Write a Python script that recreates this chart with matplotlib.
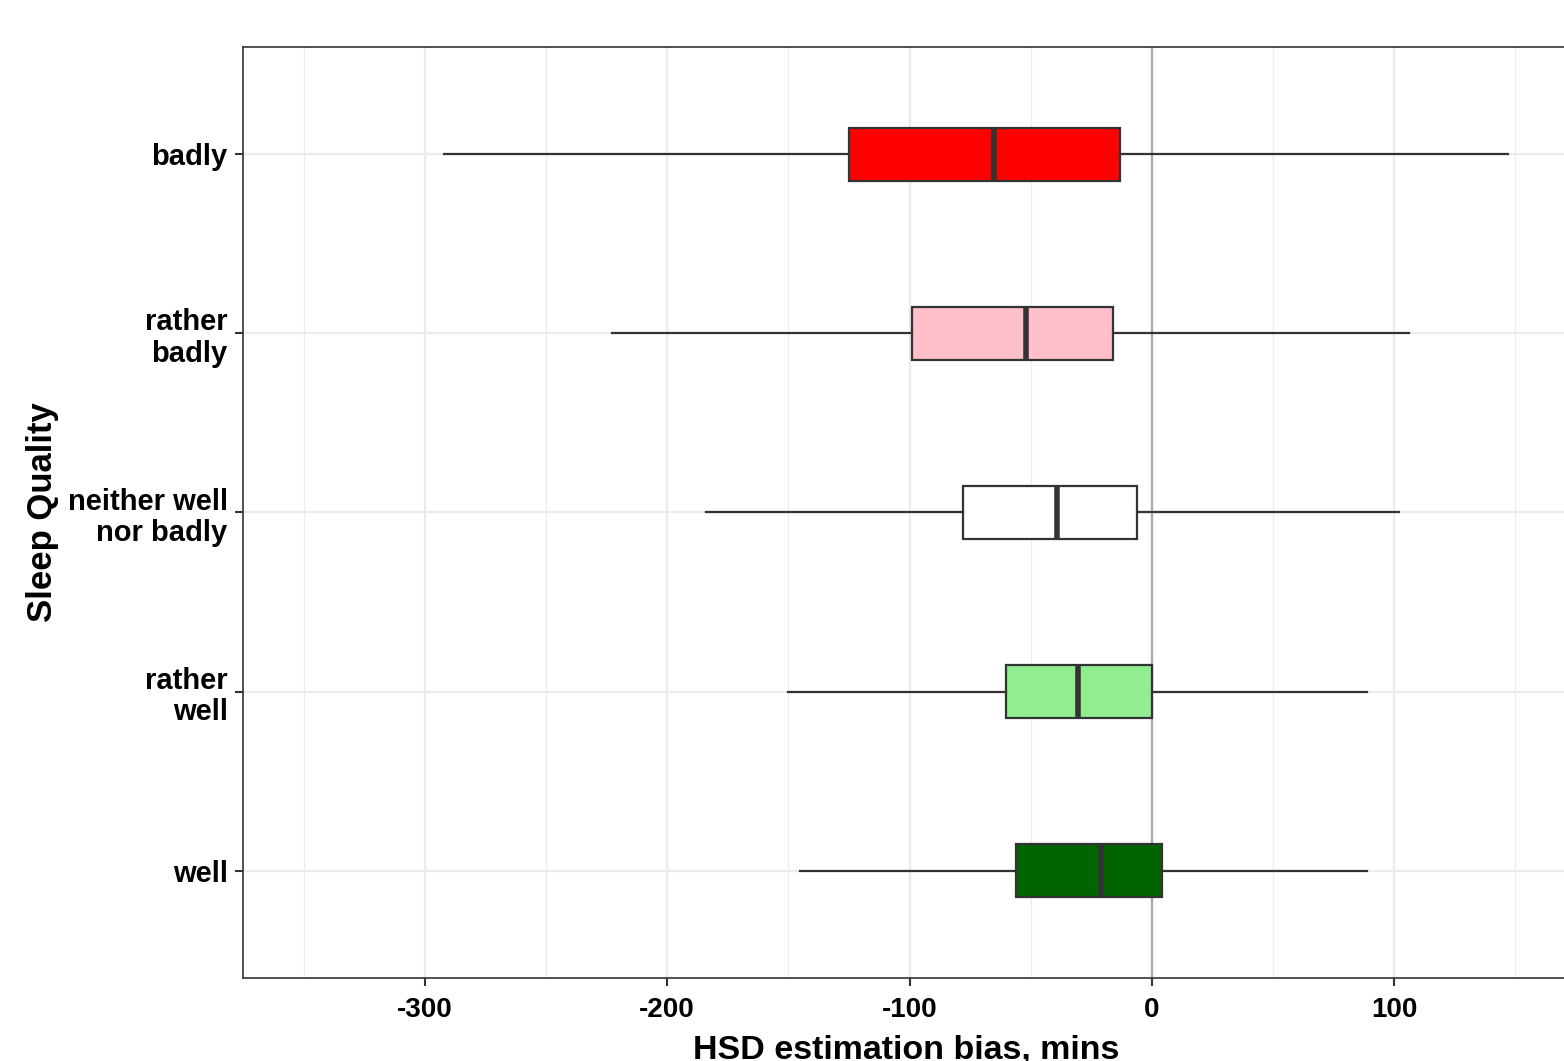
import numpy as np
import matplotlib
matplotlib.use('Agg')
import matplotlib.pyplot as plt
from matplotlib.ticker import MultipleLocator

plt.rcParams['font.family'] = ['Liberation Sans', 'DejaVu Sans']
plt.rcParams['axes.unicode_minus'] = False

# categories from bottom to top
categories = ['well', 'rather\nwell', 'neither well\nnor badly', 'rather\nbadly', 'badly']
colors = ['#006400', '#90EE90', '#FFFFFF', '#FFC0CB', '#FF0000']

whisker_low = [-145, -150, -184, -223, -292]
q1 = [-56, -60, -78, -99, -125]
median = [-21, -30.5, -39, -52, -65]
q3 = [4, 0, -6, -16, -13]
whisker_high = [89, 89, 102, 106, 147]

fig = plt.figure(figsize=(15.64, 10.61), dpi=100)
ax = fig.add_axes([243 / 1564, 83 / 1061, (1570 - 243) / 1564, (978 - 47) / 1061])

stats = []
for i in range(len(categories)):
    stats.append(dict(whislo=whisker_low[i], q1=q1[i], med=median[i],
                      q3=q3[i], whishi=whisker_high[i], fliers=[]))

edge = '#333333'
bp = ax.bxp(stats, positions=np.arange(1, len(categories) + 1), vert=False,
            widths=0.3, patch_artist=True, showcaps=False,
            boxprops=dict(edgecolor=edge, linewidth=1.6),
            whiskerprops=dict(color=edge, linewidth=1.6),
            medianprops=dict(color=edge, linewidth=4),
            zorder=3)
for patch, c in zip(bp['boxes'], colors):
    patch.set_facecolor(c)

ax.axvline(0, color='#AAAAAA', linewidth=1.6, zorder=2)

ax.set_xlim(-375.1, 172.6)
ax.set_ylim(0.4, 5.6)
ax.xaxis.set_major_locator(MultipleLocator(100))
ax.xaxis.set_minor_locator(MultipleLocator(50))
ax.set_yticks(np.arange(1, len(categories) + 1))
ax.set_yticklabels(categories, fontsize=21, fontweight='bold', linespacing=1.15)
for lbl in ax.get_xticklabels():
    lbl.set_fontweight('bold')
ax.tick_params(axis='x', labelsize=20, pad=8)
ax.tick_params(axis='y', pad=5)
ax.tick_params(which='major', length=6, width=1.5, color=edge)
ax.tick_params(which='minor', length=0)

ax.grid(True, which='major', color='#EBEBEB', linewidth=1.6, zorder=0)
ax.grid(True, which='minor', axis='x', color='#EBEBEB', linewidth=0.8, zorder=0)
ax.set_axisbelow(True)

for s in ax.spines.values():
    s.set_color(edge)
    s.set_linewidth(1.2)

ax.set_xlabel('HSD estimation bias, mins', fontsize=24.5, fontweight='bold', labelpad=8)
ax.set_ylabel('Sleep Quality', fontsize=25, fontweight='bold', labelpad=6)

fig.savefig('out.png', dpi=100)
